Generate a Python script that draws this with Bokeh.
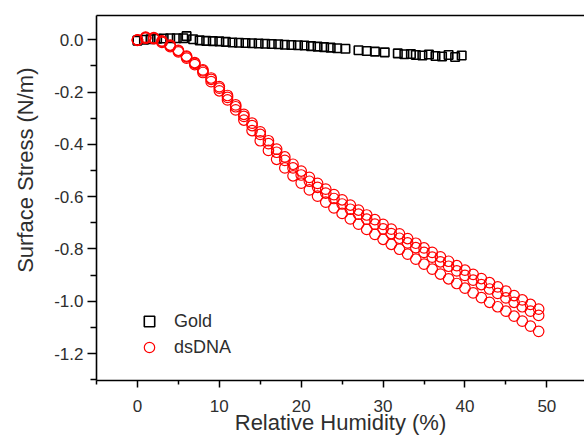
from bokeh.plotting import figure
from bokeh.models import (ColumnDataSource, Range1d, FixedTicker, LinearAxis,
                          NumeralTickFormatter, Legend, LegendItem, Title)
from bokeh.embed import file_html
from bokeh.resources import INLINE

# ---------------- data ----------------
gold_rh = [0.0, 0.8, 1.6, 2.4, 3.2, 4.0, 4.8, 5.6, 6.0, 6.8, 7.6, 8.4, 9.2, 10.0,
           10.8, 11.6, 12.4, 13.2, 14.0, 14.8, 15.6, 16.4, 17.2, 18.0, 18.8, 19.6,
           20.4, 21.2, 22.0, 22.8, 23.6, 24.4, 25.4, 27.0, 28.0, 29.0, 30.2, 31.8,
           32.6, 33.4, 34.0, 34.8, 35.6, 36.4, 37.2, 38.0, 38.8, 39.6]
gold_stress = [-0.003, 0.000, 0.002, 0.004, 0.005, 0.006, 0.006, 0.006, 0.014, 0.002,
               -0.002, -0.004, -0.005, -0.006, -0.008, -0.010, -0.011, -0.012, -0.013,
               -0.014, -0.015, -0.016, -0.017, -0.019, -0.020, -0.021, -0.022, -0.024,
               -0.026, -0.028, -0.030, -0.032, -0.034, -0.040, -0.043, -0.045, -0.048,
               -0.052, -0.055, -0.054, -0.058, -0.060, -0.056, -0.062, -0.064, -0.058,
               -0.066, -0.060]

dna_rh = [0, 1, 2, 3, 4, 5, 6, 7, 8, 9, 10, 11, 12, 13, 14, 15, 16, 17, 18, 19,
          20, 21, 22, 23, 24, 25, 26, 27, 28, 29, 30, 31, 32, 33, 34, 35, 36, 37,
          38, 39, 40, 41, 42, 43, 44, 45, 46, 47, 48, 49]
dna_upper = [0.000, 0.010, 0.008, -0.004, -0.020, -0.040, -0.062, -0.087, -0.115, -0.146,
             -0.179, -0.213, -0.249, -0.285, -0.319, -0.352, -0.386, -0.418, -0.448, -0.476,
             -0.502, -0.526, -0.549, -0.571, -0.592, -0.612, -0.632, -0.651, -0.670, -0.688,
             -0.706, -0.724, -0.742, -0.760, -0.778, -0.796, -0.813, -0.830, -0.847, -0.864,
             -0.881, -0.897, -0.913, -0.929, -0.945, -0.961, -0.978, -0.995, -1.012, -1.030]
dna_middle = [-0.001, 0.008, 0.006, -0.006, -0.022, -0.042, -0.065, -0.090, -0.119, -0.151,
              -0.185, -0.220, -0.256, -0.293, -0.328, -0.362, -0.397, -0.430, -0.461, -0.490,
              -0.517, -0.541, -0.564, -0.586, -0.607, -0.628, -0.648, -0.667, -0.686, -0.705,
              -0.723, -0.741, -0.759, -0.777, -0.795, -0.813, -0.831, -0.849, -0.866, -0.884,
              -0.901, -0.919, -0.936, -0.953, -0.970, -0.987, -1.004, -1.021, -1.038, -1.054]
dna_lower = [-0.002, 0.006, 0.004, -0.010, -0.026, -0.046, -0.070, -0.095, -0.125, -0.160,
             -0.195, -0.230, -0.268, -0.307, -0.347, -0.386, -0.423, -0.457, -0.490, -0.520,
             -0.548, -0.574, -0.598, -0.621, -0.643, -0.664, -0.685, -0.705, -0.725, -0.744,
             -0.763, -0.782, -0.801, -0.820, -0.839, -0.858, -0.877, -0.896, -0.914, -0.932,
             -0.950, -0.968, -0.986, -1.004, -1.021, -1.038, -1.057, -1.076, -1.095, -1.115]

x_major = [0, 10, 20, 30, 40, 50]
x_minor = [-5, 5, 15, 25, 35, 45, 55]
y_major = [0.0, -0.2, -0.4, -0.6, -0.8, -1.0, -1.2]
y_minor = [-0.1, -0.3, -0.5, -0.7, -0.9, -1.1, -1.3]

x_label = "Relative Humidity (%)"
y_label = "Surface Stress (N/m)"
series_names = ["Gold", "dsDNA"]

FONT = "Liberation Sans"
TXT = "#2e2e2e"

# ---------------- figure ----------------
p = figure(width=584, height=437, output_backend="svg", toolbar_location=None,
           x_range=Range1d(-5, 54.6), y_range=Range1d(-1.303, 0.093),
           min_border_left=95, min_border_right=0, min_border_top=15,
           min_border_bottom=57, x_axis_location=None, y_axis_location=None)
p.outline_line_color = None
p.xgrid.visible = False
p.ygrid.visible = False
p.background_fill_color = "white"

xaxis = LinearAxis(ticker=FixedTicker(ticks=x_major, minor_ticks=x_minor),
                   axis_label=x_label)
yaxis = LinearAxis(ticker=FixedTicker(ticks=y_major, minor_ticks=y_minor),
                   formatter=NumeralTickFormatter(format="0.0"))
for ax in (xaxis, yaxis):
    ax.axis_line_width = 1.6
    ax.axis_line_color = "black"
    ax.major_tick_line_width = 1.5
    ax.minor_tick_line_width = 1.5
    ax.major_tick_in = 0
    ax.minor_tick_in = 0
    ax.major_label_text_font = FONT
    ax.major_label_text_font_size = "17px"
    ax.major_label_text_color = TXT
    ax.axis_label_text_font = FONT
    ax.axis_label_text_font_size = "22px"
    ax.axis_label_text_font_style = "normal"
    ax.axis_label_text_color = TXT
xaxis.major_tick_out = 7
xaxis.minor_tick_out = 4
xaxis.major_label_standoff = 12
xaxis.axis_label_standoff = -5
yaxis.major_tick_out = 9
yaxis.minor_tick_out = 6
yaxis.major_label_standoff = 4
p.add_layout(xaxis, "below")
p.add_layout(yaxis, "left")

top = LinearAxis(ticker=FixedTicker(ticks=[]), major_tick_out=0, minor_tick_out=0,
                 major_label_standoff=0, axis_line_width=1.6, axis_line_color="black")
p.add_layout(top, "above")

ytitle = Title(text=y_label, align="right", offset=52, text_font=FONT,
               text_font_size="22px", text_font_style="normal", text_color=TXT,
               vertical_align="top", standoff=24)
p.add_layout(ytitle, "left")

# ---------------- glyphs ----------------
gold_src = ColumnDataSource(dict(x=gold_rh, y=gold_stress))
dna_src = ColumnDataSource(dict(x=dna_rh + dna_rh + dna_rh,
                                y=dna_upper + dna_middle + dna_lower))

g = p.scatter("x", "y", source=gold_src, marker="square", size=8.5,
              fill_color=None, line_color="black", line_width=1.6)
d = p.scatter("x", "y", source=dna_src, marker="circle", size=10.5,
              fill_color=None, line_color="#ff0000", line_width=1.2)

legend = Legend(items=[LegendItem(label=series_names[0], renderers=[g]),
                       LegendItem(label=series_names[1], renderers=[d])],
                location=(39, 20), border_line_color=None, background_fill_alpha=0,
                padding=0, margin=0, glyph_width=28, glyph_height=26, label_height=26,
                spacing=0, label_standoff=11, label_text_font=FONT,
                label_text_font_size="18px", label_text_color=TXT)
p.add_layout(legend)

open("out.html", "w").write(file_html(p, INLINE))
